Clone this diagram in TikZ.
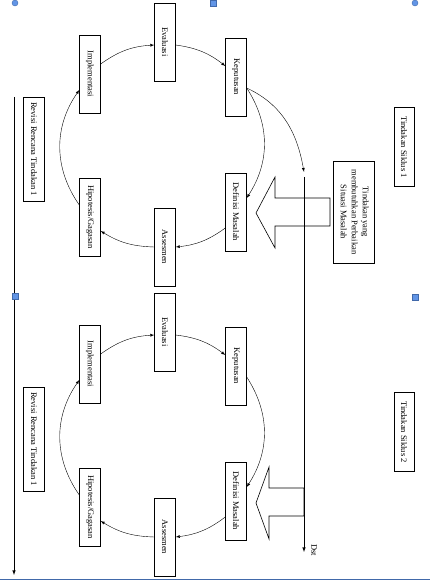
\documentclass[tikz,border=0pt]{standalone}
\usepackage{fontspec}
\setmainfont{Liberation Serif}
\definecolor{handlefill}{RGB}{98,149,230}
\definecolor{handleline}{RGB}{65,105,170}
\tikzset{
	kotak/.style={draw, fill=white, minimum width=21pt, minimum height=78pt, inner sep=0pt, font=\fontsize{8.5}{11}\selectfont},
	kotakpanjang/.style={kotak, minimum height=104pt},
	kotaksiklus/.style={kotak, minimum width=20pt, minimum height=79pt},
	blokpanah/.style={draw, semithick, fill=white},
	pegangan/.style={draw=handleline, fill=handlefill}
}
\newcommand{\tegak}[1]{\rotatebox{-90}{#1}}

\begin{document}
\begin{tikzpicture}[x=1pt,y=1pt]
			\useasboundingbox (0,0) rectangle (430,582);

			% siklus 1
			\node[kotak] (ev1) at (165,540) {\tegak{Evaluasi}};
			\node[kotak] (im1) at (90,508) {\tegak{Implementasi}};
			\node[kotak] (ke1) at (236,505) {\tegak{Keputusan}};
			\node[kotak] (de1) at (236,370) {\tegak{Definisi Masalah}};
			\node[kotak] (as1) at (165,335) {\tegak{Assesmen}};
			\node[kotak] (hi1) at (90,365) {\tegak{Hipotesis/Gagasan}};
			\node[kotakpanjang] (re1) at (34,433) {\tegak{Revisi Rencana Tindakan 1}};
			\node[kotaksiklus] (ts1) at (404,435) {\tegak{Tindakan Siklus 1}};
			\node[kotak, minimum width=41pt, minimum height=102pt] (tb) at (354,370)
				{\tegak{\begin{tabular}{@{}c@{}}Tindakan yang\\membutuhkan Perbaikan\\Situasi Masalah\end{tabular}}};

			\draw[-latex] ([yshift=10pt]im1.east) to[bend left=16] ([yshift=-3pt]ev1.west);
			\draw[-latex] ([yshift=-3pt]ev1.east) to[bend left=15] ([yshift=11pt]ke1.west);
			\draw[-latex] ([yshift=-11pt]ke1.east) to[bend left=33] ([yshift=14pt]de1.east);
			\draw[-latex] ([yshift=-16pt]de1.west) to[bend left=15] (as1.east);
			\draw[-latex] (as1.west) to[bend left=15] ([yshift=-14pt]hi1.east);
			\draw[-latex] ([yshift=12pt]hi1.west) to[bend left=35] ([yshift=-16pt]im1.west);

			% siklus 2
			\node[kotak] (ev2) at (165,250) {\tegak{Evaluasi}};
			\node[kotak] (im2) at (90,218) {\tegak{Implementasi}};
			\node[kotak] (ke2) at (236,216) {\tegak{Keputusan}};
			\node[kotak] (de2) at (236,81) {\tegak{Definisi Masalah}};
			\node[kotak] (as2) at (165,45) {\tegak{Assesmen}};
			\node[kotak] (hi2) at (90,75) {\tegak{Hipotesis/Gagasan}};
			\node[kotakpanjang] (re2) at (34,143) {\tegak{Revisi Rencana Tindakan 1}};
			\node[kotaksiklus] (ts2) at (404,150) {\tegak{Tindakan Siklus 2}};

			\draw[-latex] ([yshift=10pt]im2.east) to[bend left=16] ([yshift=-3pt]ev2.west);
			\draw[-latex] ([yshift=-3pt]ev2.east) to[bend left=15] ([yshift=11pt]ke2.west);
			\draw[-latex] ([yshift=-11pt]ke2.east) to[bend left=33] ([yshift=14pt]de2.east);
			\draw[-latex] ([yshift=-16pt]de2.west) to[bend left=15] (as2.east);
			\draw[-latex] (as2.west) to[bend left=15] ([yshift=-14pt]hi2.east);
			\draw[-latex] ([yshift=12pt]hi2.west) to[bend left=35] ([yshift=-16pt]im2.west);

			% panah blok
			\draw[blokpanah] (330,384) -- (275,384) -- (275,405) -- (256,369) -- (275,334) -- (275,356) -- (330,356) -- cycle;
			\draw[blokpanah] (304,94) -- (269,94) -- (269,115) -- (256,79) -- (269,43) -- (269,66) -- (304,66) -- cycle;

			% garis waktu
			\coordinate (garisatas) at (304,410);
			\coordinate (garisbawah) at (304,30);
			\node[font=\fontsize{8.5}{10}\selectfont] (dst) at (314,32) {\tegak{Dst}};
			\draw[-latex] ([yshift=-11pt]ke1.east) to[out=-25,in=100] (garisatas);
			\draw[semithick, -latex] ([yshift=-5pt]garisatas) -- (garisbawah);

			\coordinate (kiriatas) at (14,485);
			\coordinate (kiribawah) at (14,7);
			\draw[semithick, -latex] (kiriatas) -- (kiribawah);

			% pegangan
			\draw[handleline, line width=1pt] (0,2) -- (430,2);
			\draw[pegangan] (15,579) circle (3);
			\draw[pegangan] (415,579) circle (3);
			\draw[pegangan] (210,576) rectangle (216,582);
			\draw[pegangan] (12,283) rectangle (18,289);
			\draw[pegangan] (412,282) rectangle (418,288);
		\end{tikzpicture}
\end{document}
